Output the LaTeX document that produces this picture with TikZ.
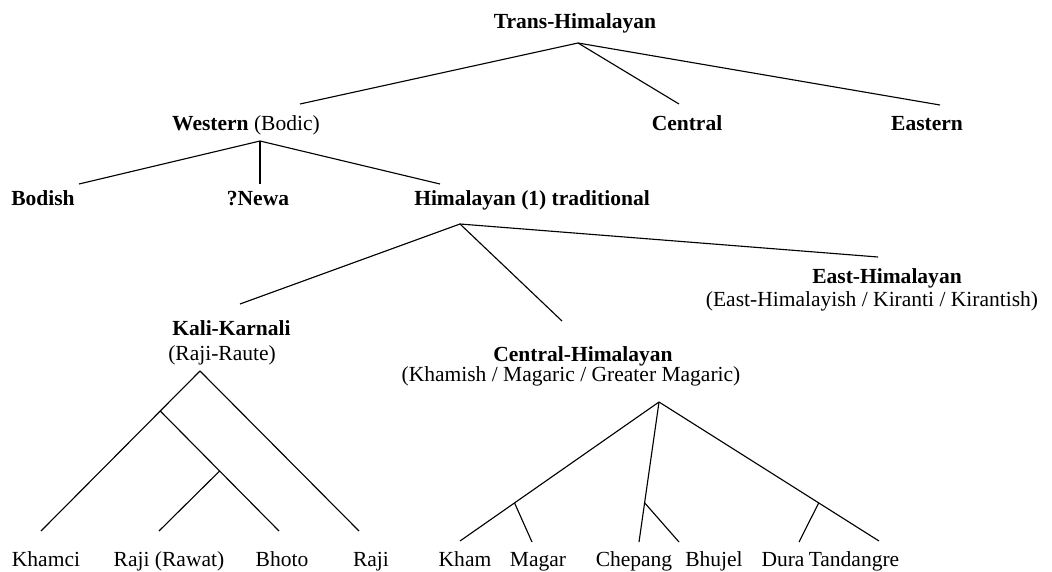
\documentclass[tikz,border=0pt]{standalone}
\usepackage{fontspec}
\setmainfont{Liberation Serif}
\usetikzlibrary{calc}
\begin{document}
\begin{tikzpicture}[x=0.025cm, y=-0.025cm,
    lang/.style={anchor=base, inner sep=0pt, font=\fontsize{15.3}{18}\selectfont},
    group/.style={lang, font=\fontsize{15.3}{18}\selectfont\bfseries},
    branch/.style={line width=0.8pt}
]
\useasboundingbox (0,0) rectangle (1052,572);

% upper levels
\node[group] (trans) at (575,28) {Trans-Himalayan};
\node[lang] (western) at (246,130) {\textbf{Western} (Bodic)};
\node[group] (central) at (687,130) {Central};
\node[group] (eastern) at (927,130) {Eastern};
\node[group] (bodish) at (43,205) {Bodish};
\node[group] (newa) at (258,205) {?Newa};
\node[group] (himal) at (532,205) {Himalayan (1) traditional};

% Himalayan subgroups
\node[group] (eh) at (887,283) {East-Himalayan};
\node[lang] (eh-alt) at (872,306) {(East-Himalayish / Kiranti / Kirantish)};
\node[group, anchor=base west] (kk) at (172,335) {Kali-Karnali};
\node[lang, anchor=base west] (kk-alt) at (168,360) {(Raji-Raute)};
\node[group] (ch) at (583,361) {Central-Himalayan};
\node[lang] (ch-alt) at (571,381) {(Khamish / Magaric / Greater Magaric)};

% languages
\foreach \n/\x/\t in {khamci/46/Khamci, rawat/169/Raji (Rawat), bhoto/282/Bhoto,
    raji/371/Raji, kham/465/Kham, magar/538/Magar, chepang/634/Chepang,
    bhujel/714/Bhujel, dura/783/Dura, tandangre/854/Tandangre}
    \node[lang] (\n) at (\x,566) {\t};

% branch points
\coordinate (trans-j) at (578,43);
\coordinate (western-in) at (300,104);
\coordinate (central-in) at (679,104);
\coordinate (eastern-in) at (940,105);
\coordinate (western-j) at (260,141);
\coordinate (bodish-in) at (79,184);
\coordinate (newa-in) at (260,184);
\coordinate (himal-in) at (440,184);
\coordinate (himal-j) at (460,224);
\coordinate (kk-in) at (240,304);
\coordinate (ch-in) at (562,321);
\coordinate (eh-in) at (878,257);
\coordinate (kk-j) at (200,371);
\coordinate (ch-j) at (659,402);
\coordinate (khamci-in) at (41,531);
\coordinate (rawat-in) at (159,531);
\coordinate (bhoto-in) at (279,531);
\coordinate (raji-in) at (359,531);
\coordinate (kham-in) at (460,541);
\coordinate (magar-in) at (532,542);
\coordinate (chepang-in) at (639,542);
\coordinate (bhujel-in) at (679,542);
\coordinate (dura-in) at (799,542);
\coordinate (tandangre-in) at (879,541);

\foreach \c in {western,central,eastern}
    \draw[branch] (trans-j) -- (\c-in);
\foreach \c in {bodish,newa,himal}
    \draw[branch] (western-j) -- (\c-in);
\foreach \c in {kk,ch,eh}
    \draw[branch] (himal-j) -- (\c-in);

% Kali-Karnali
\coordinate (kk-a) at ($(kk-j)!0.25!(khamci-in)$);
\coordinate (kk-b) at ($(kk-a)!0.5!(bhoto-in)$);
\draw[branch] (kk-j) -- (khamci-in);
\draw[branch] (kk-j) -- (raji-in);
\draw[branch] (kk-a) -- (bhoto-in);
\draw[branch] (kk-b) -- (rawat-in);

% Central-Himalayan
\coordinate (ch-a) at ($(ch-j)!0.726!(kham-in)$);
\coordinate (ch-b) at ($(ch-j)!0.72!(chepang-in)$);
\coordinate (ch-c) at ($(ch-j)!0.726!(tandangre-in)$);
\foreach \c in {kham,chepang,tandangre}
    \draw[branch] (ch-j) -- (\c-in);
\draw[branch] (ch-a) -- (magar-in);
\draw[branch] (ch-b) -- (bhujel-in);
\draw[branch] (ch-c) -- (dura-in);
\end{tikzpicture}
\end{document}
